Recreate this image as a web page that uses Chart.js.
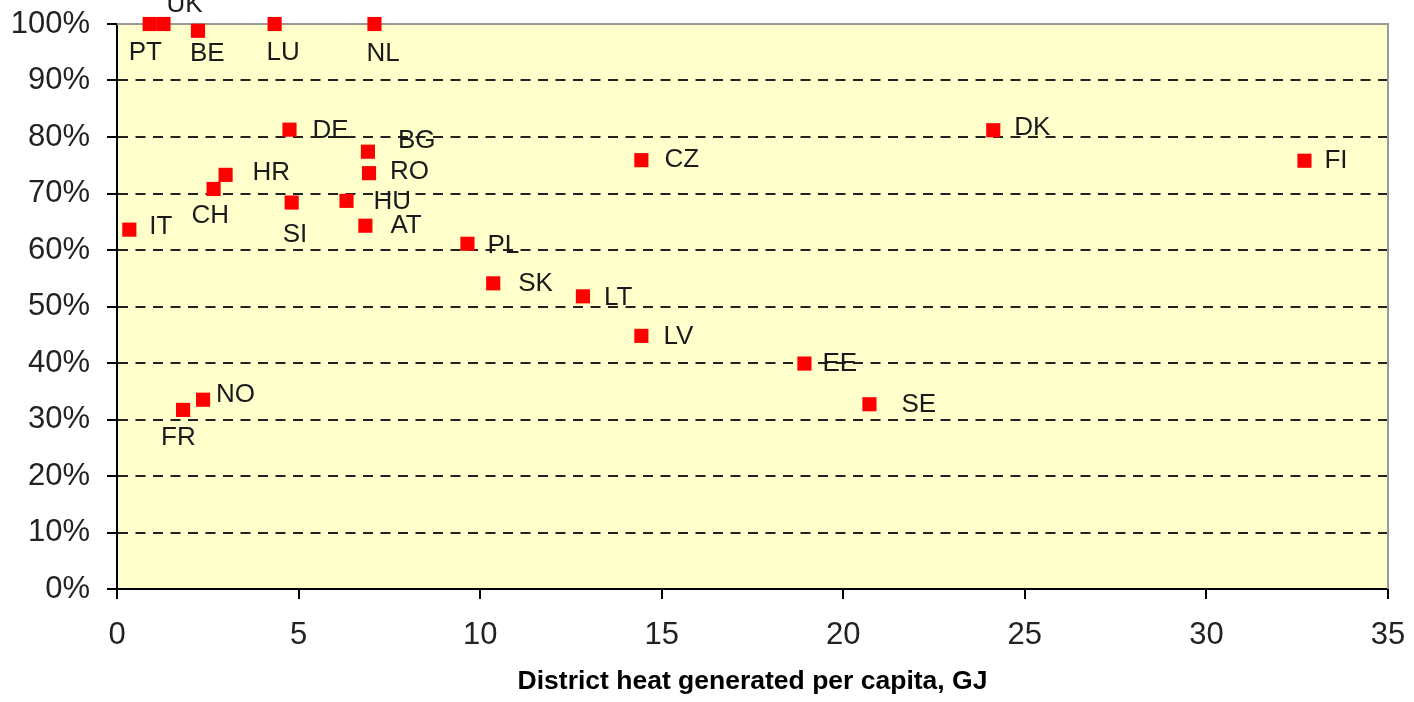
<!DOCTYPE html>
<html>
<head>
<meta charset="utf-8">
<script src="https://cdn.jsdelivr.net/npm/chart.js@4/dist/chart.umd.min.js"></script>
<style>
  body { margin: 0; background: #fff; }
  #wrap { width: 1414px; height: 702px; position: relative; }
</style>
</head>
<body>
<div id="wrap"><canvas id="heatChart"></canvas></div>
<script>
// country codes, district heat per capita (GJ), share (%)
var countries = ['UK', 'PT', 'BE', 'LU', 'NL', 'DE', 'BG', 'RO', 'HR', 'CH', 'SI', 'HU', 'AT',
                 'IT', 'PL', 'SK', 'LT', 'LV', 'CZ', 'DK', 'FI', 'EE', 'SE', 'NO', 'FR'];
var heatPerCapita = [1.28, 0.90, 2.23, 4.34, 7.09, 4.75, 6.91, 6.94, 2.99, 2.66, 4.81, 6.32, 6.84,
                     0.34, 9.65, 10.36, 12.83, 14.44, 14.44, 24.13, 32.70, 18.93, 20.72, 2.37, 1.82];
var share = [100, 100, 98.8, 100, 100, 81.3, 77.4, 73.6, 73.3, 70.8, 68.4, 68.7, 64.3,
             63.6, 61.1, 54.1, 51.8, 44.8, 75.9, 81.2, 75.8, 39.9, 32.7, 33.5, 31.7];
var xTicks = [0, 5, 10, 15, 20, 25, 30, 35];

// where each label sits relative to its square (text left edge, text middle)
var labelOffset = {
    UK: [3, -19], PT: [-21, 29], BE: [-8, 23], LU: [-8, 29], NL: [-8, 30],
    DE: [23, 1], BG: [30, -11], RO: [21, -1], HR: [27, -2], CH: [-22, 27],
    SI: [-9, 32], HU: [27, 1], AT: [25, 0], IT: [20, -3], PL: [20, 2],
    SK: [25, 0], LT: [21, 1], LV: [22, 1], CZ: [23, 0], DK: [21, -2],
    FI: [20, 0], EE: [18, 0], SE: [32, 1], NO: [13, -5], FR: [-22, 28]
};

var points = [];
for (var i = 0; i < countries.length; i++) {
    points.push({ x: heatPerCapita[i], y: share[i] });
}

var plotArea = {
    id: 'plotArea',
    beforeDraw: function(chart) {
        var a = chart.chartArea, ctx = chart.ctx;
        ctx.save();
        ctx.fillStyle = '#FFFFCC';
        ctx.fillRect(a.left, a.top, a.right - a.left, a.bottom - a.top);
        ctx.restore();
    },
    beforeDatasetsDraw: function(chart) {
        var a = chart.chartArea, ctx = chart.ctx;
        ctx.save();
        ctx.strokeStyle = '#999999';
        ctx.lineWidth = 2;
        ctx.beginPath();
        ctx.moveTo(a.left, a.top);
        ctx.lineTo(a.right, a.top);
        ctx.lineTo(a.right, a.bottom);
        ctx.stroke();
        ctx.restore();
    },
    afterDatasetsDraw: function(chart) {
        var ctx = chart.ctx;
        var meta = chart.getDatasetMeta(0);
        ctx.save();
        ctx.font = '26px "Liberation Sans", Arial, sans-serif';
        ctx.fillStyle = '#1a1a1a';
        ctx.textAlign = 'left';
        ctx.textBaseline = 'middle';
        meta.data.forEach(function(pt, i) {
            var off = labelOffset[countries[i]] || [20, 0];
            ctx.fillText(countries[i], pt.x + off[0], pt.y + off[1]);
        });
        ctx.restore();
    }
};

var ctx = document.getElementById('heatChart');
var heatChart = new Chart(ctx, {
    type: 'scatter',
    data: {
        datasets: [{
            data: points,
            pointStyle: 'rect',
            pointRadius: 10,
            pointHoverRadius: 10,
            backgroundColor: '#FF0000',
            borderWidth: 0,
            clip: false
        }]
    },
    options: {
        responsive: true,
        maintainAspectRatio: false,
        animation: false,
        layout: { padding: { top: 24, right: 26, left: 0, bottom: 4 } },
        plugins: {
            legend: { display: false },
            tooltip: { enabled: false }
        },
        scales: {
            x: {
                type: 'linear',
                min: 0,
                max: 35,
                afterBuildTicks: function(axis) {
                    axis.ticks = xTicks.map(function(v) { return { value: v }; });
                },
                afterFit: function(axis) {
                    axis.height = 109;
                    axis.paddingLeft = 0;
                    axis.paddingRight = 0;
                },
                grid: {
                    drawOnChartArea: false,
                    drawTicks: true,
                    tickLength: 10,
                    tickColor: '#000',
                    lineWidth: 2
                },
                border: { color: '#000', width: 2 },
                ticks: {
                    padding: 18,
                    color: '#222',
                    font: { family: '"Liberation Sans", Arial, sans-serif', size: 31 },
                    maxRotation: 0
                },
                title: {
                    display: true,
                    text: 'District heat generated per capita, GJ',
                    color: '#000',
                    font: { family: '"Liberation Sans", Arial, sans-serif', size: 26.5, weight: 'bold' },
                    padding: { top: 0, bottom: 0 }
                }
            },
            y: {
                min: 0,
                max: 100,
                afterFit: function(axis) {
                    axis.width = 117;
                    axis.paddingTop = 0;
                    axis.paddingBottom = 0;
                },
                ticks: {
                    stepSize: 10,
                    padding: 17,
                    color: '#222',
                    font: { family: '"Liberation Sans", Arial, sans-serif', size: 31 },
                    callback: function(v) { return v + '%'; }
                },
                grid: {
                    color: function(c) {
                        return (c.tick && (c.tick.value === 0 || c.tick.value === 100)) ? 'rgba(0,0,0,0)' : '#222';
                    },
                    lineWidth: 2,
                    tickLength: 10,
                    tickColor: '#000'
                },
                border: { color: '#000', width: 2, dash: [10, 7.5] }
            }
        }
    },
    plugins: [plotArea]
});
</script>
</body>
</html>
